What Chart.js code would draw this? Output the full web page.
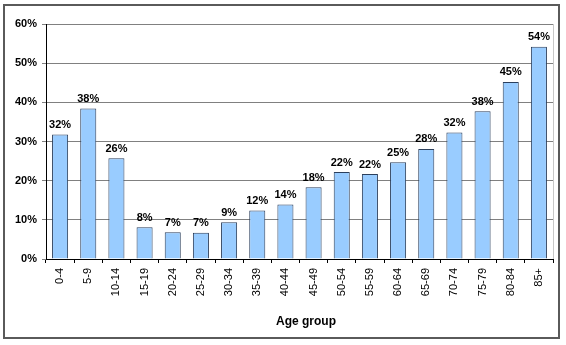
<!DOCTYPE html>
<html><head><meta charset="utf-8">
<script src="https://cdn.jsdelivr.net/npm/chart.js@4/dist/chart.umd.min.js"></script>
<style>html,body{margin:0;padding:0;background:#fff}#wrap{width:566px;height:345px;position:relative}</style>
</head><body><div id="wrap"><canvas id="c" width="566" height="345"></canvas></div>
<script>
const categories = ["0-4","5-9","10-14","15-19","20-24","25-29","30-34","35-39","40-44","45-49","50-54","55-59","60-64","65-69","70-74","75-79","80-84","85+"];
const values = [31.8,38.4,25.7,8.1,6.8,6.7,9.4,12.4,13.9,18.3,22.2,21.7,24.7,28.1,32.3,37.7,45.2,54.2];
const yTicks = [0,10,20,30,40,50,60];
const xTitle = "Age group";

const font = "'Liberation Sans', Arial, sans-serif";
const deco = {
  id:'deco',
  beforeDraw(chart){
    const ctx = chart.ctx;
    ctx.save();
    ctx.fillStyle='#fff';ctx.fillRect(0,0,chart.width,chart.height);
    ctx.restore();
  },
  afterDraw(chart){
    const ctx = chart.ctx, a = chart.chartArea;
    ctx.save();
    ctx.strokeStyle='#c8c8c8';ctx.lineWidth=1;
    ctx.beginPath();ctx.moveTo(Math.round(a.right)+0.5,a.top);ctx.lineTo(Math.round(a.right)+0.5,a.bottom);ctx.stroke();
    ctx.strokeStyle='#5a5a5a';ctx.lineWidth=2;
    ctx.strokeRect(4,5,555,333);
    ctx.font = "bold 12px " + font;
    ctx.fillStyle='#000';ctx.textAlign='center';ctx.textBaseline='middle';
    ctx.fillText(xTitle, 306, 322);
    ctx.restore();
  },
  afterDatasetsDraw(chart){
    const ctx = chart.ctx;
    const meta = chart.getDatasetMeta(0);
    ctx.save();
    ctx.font = "bold 11px " + font;
    ctx.fillStyle = '#000';
    ctx.textAlign='center';ctx.textBaseline='bottom';
    meta.data.forEach((bar,i)=>{
      ctx.fillText(Math.round(values[i])+'%', bar.x, bar.y-4);
    });
    ctx.restore();
  }
};

new Chart(document.getElementById('c'),{
  type:'bar',
  data:{labels:categories,datasets:[{data:values,backgroundColor:'#99ccff',borderColor:'#2b3f5c',borderWidth:1,barPercentage:0.57,categoryPercentage:1}]},
  options:{
    responsive:false,animation:false,
    layout:{padding:{top:24,bottom:0,left:3,right:13}},
    plugins:{legend:{display:false},tooltip:{enabled:false}},
    scales:{
      x:{
        afterFit(s){s.height=86;},
        grid:{drawOnChartArea:false,drawTicks:true,tickLength:4,color:'#000',offset:true},
        border:{display:true,color:'#000'},
        ticks:{minRotation:90,maxRotation:90,color:'#000',font:{family:font,size:11},padding:5,autoSkip:false},
        title:{display:false,text:xTitle}
      },
      y:{
        min:0,max:60,
        afterFit(s){s.width=43;},
        afterBuildTicks(s){s.ticks=yTicks.map(v=>({value:v}));},
        grid:{color:'#808080',drawTicks:true,tickLength:4},
        border:{display:true,color:'#000'},
        ticks:{color:'#000',font:{family:font,size:11,weight:'bold'},padding:5,callback:v=>v+'%'}
      }
    }
  },
  plugins:[deco]
});
</script></body></html>
